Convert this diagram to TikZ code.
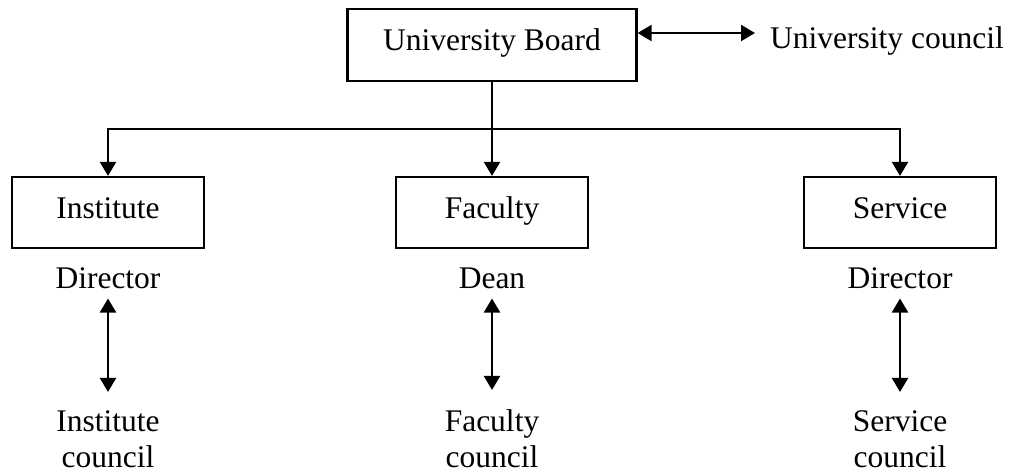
\documentclass[tikz,border=0pt]{standalone}
\usepackage{fontspec}
\setmainfont{Liberation Serif}
\usetikzlibrary{arrows.meta}
\begin{document}
\begin{tikzpicture}[x=1pt,y=-1pt,
  font=\fontsize{31.5}{36}\selectfont,
  boxnode/.style={draw,line width=2.2pt,minimum width=192pt,minimum height=71pt,inner sep=0pt},
  lbl/.style={inner sep=0pt,anchor=base},
  arr/.style={line width=2.2pt,-{Triangle[length=14pt,width=16pt]}},
  darr/.style={line width=2.2pt,{Triangle[length=14pt,width=16pt]}-{Triangle[length=14pt,width=16pt]}}]
\fill[white] (0,0) rectangle (1010,472);
\useasboundingbox (0,0) rectangle (1010,472);
% top
\node[boxnode,minimum width=289pt,minimum height=72pt] (ub) at (492,45) {};
\node[lbl] (ubt) at (492,50) {University Board};
\node[lbl,anchor=base west] (uc) at (770,48) {University council};
\draw[darr,shorten >=15pt] (ub.east |- 0,33) -- (uc.west |- 0,33);
% boxes
\node[boxnode] (inst) at (108,212.5) {};
\node[boxnode] (fac) at (492,212.5) {};
\node[boxnode] (serv) at (900,212.5) {};
\node[lbl] (instt) at (108,218) {Institute};
\node[lbl] (fact) at (492,218) {Faculty};
\node[lbl] (servt) at (900,218) {Service};
% tree connectors
\coordinate (j) at (492,129);
\draw[arr] (ub.south) -- (fac.north);
\draw[arr] (j) -| (inst.north);
\draw[arr] (j) -| (serv.north);
% heads
\node[lbl] (d1) at (108,288) {Director};
\node[lbl] (d2) at (492,288) {Dean};
\node[lbl] (d3) at (900,288) {Director};
% councils
\node[lbl] (c1) at (108,431) {Institute};
\node[lbl] (c1b) at (108,467) {council};
\node[lbl] (c2) at (492,431) {Faculty};
\node[lbl] (c2b) at (492,467) {council};
\node[lbl] (c3) at (900,431) {Service};
\node[lbl] (c3b) at (900,467) {council};
\draw[darr,shorten <=10pt,shorten >=18pt] (d1.south) -- (c1.north);
\draw[darr,shorten <=10pt,shorten >=19pt] (d2.south) -- (c2.north);
\draw[darr,shorten <=10pt,shorten >=18pt] (d3.south) -- (c3.north);
\end{tikzpicture}
\end{document}
